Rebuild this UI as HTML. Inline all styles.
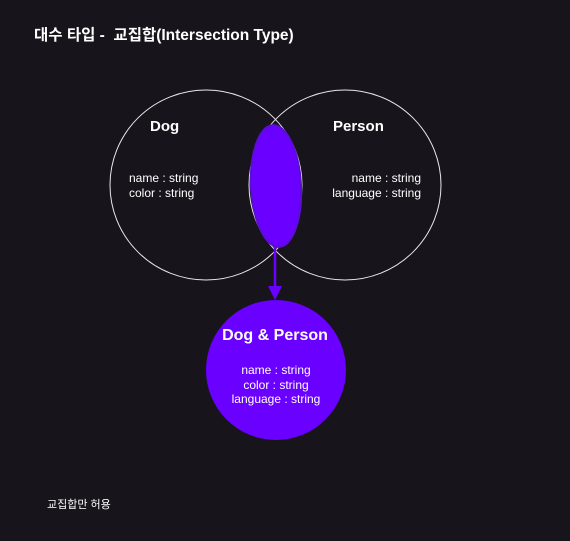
<!DOCTYPE html>
<html><head><meta charset="utf-8"><style>
html,body{margin:0;padding:0;background:#17141c;}
svg{display:block}
text{font-family:"Liberation Sans","Noto Sans CJK KR",sans-serif;fill:#fff}
</style></head><body>
<svg width="570" height="541" viewBox="0 0 570 541">
<rect width="570" height="541" fill="#17141c"/>
<text x="34" y="40" font-size="15.5" font-weight="bold">대수 타입 -&#160; 교집합(Intersection Type)</text>
<ellipse cx="206" cy="185" rx="96" ry="95" fill="none" stroke="#e8e8e8" stroke-width="1"/>
<ellipse cx="345" cy="185" rx="96" ry="95" fill="none" stroke="#e8e8e8" stroke-width="1"/>
<ellipse cx="276" cy="186" rx="25" ry="61" fill="#6a00ff" stroke="#5a0fd0" stroke-width="2" transform="rotate(-3 276 186)"/>
<text x="150" y="131" font-size="15" font-weight="bold">Dog</text>
<text x="129" y="182" font-size="12">name : string</text>
<text x="129" y="197" font-size="12">color : string</text>
<text x="333" y="131" font-size="15" font-weight="bold">Person</text>
<text x="421" y="182" font-size="12" text-anchor="end">name : string</text>
<text x="421" y="197" font-size="12" text-anchor="end">language : string</text>
<line x1="275" y1="247" x2="275" y2="290" stroke="#6a00ff" stroke-width="2.5"/>
<polygon points="268,286 282,286 275,300" fill="#6a00ff"/>
<circle cx="276" cy="370" r="70" fill="#6a00ff"/>
<text x="275" y="340" font-size="16" font-weight="bold" text-anchor="middle">Dog &amp; Person</text>
<text x="276" y="374" font-size="12" text-anchor="middle">name : string</text>
<text x="276" y="389" font-size="12" text-anchor="middle">color : string</text>
<text x="276" y="403" font-size="12" text-anchor="middle">language : string</text>
<text x="47" y="508" font-size="11">교집합만 허용</text>
</svg>
</body></html>
